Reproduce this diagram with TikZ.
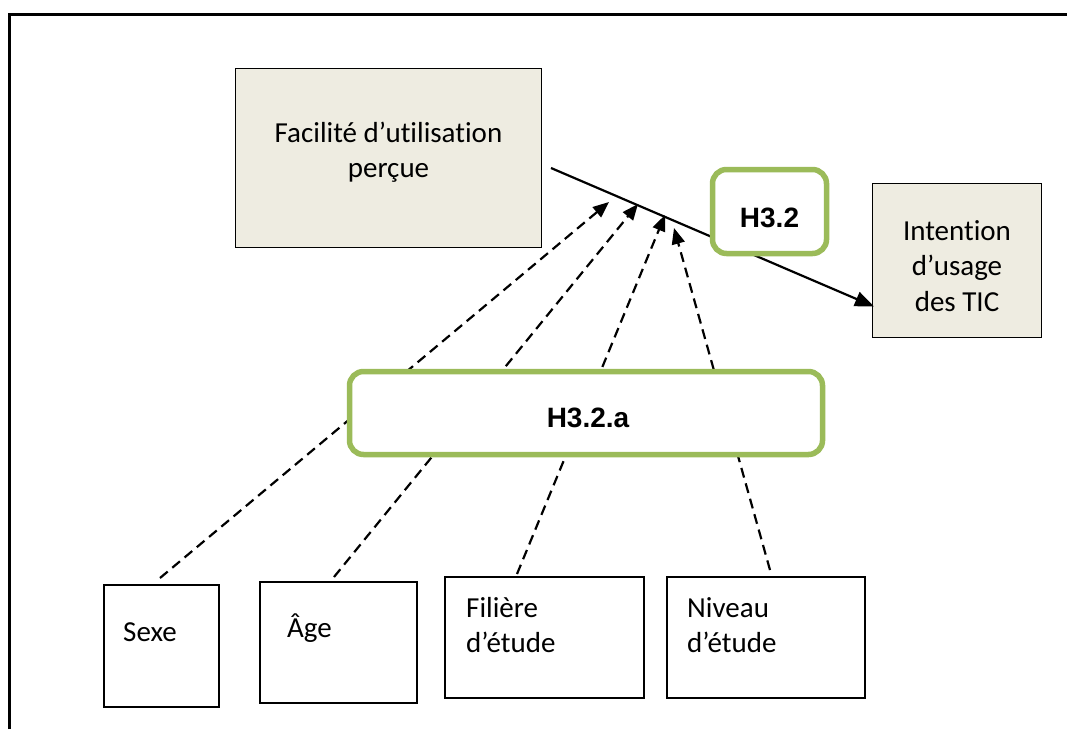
\documentclass[tikz,border=0pt]{standalone}
\usepackage{fontspec}
\setmainfont{Carlito}[Ligatures={NoCommon}]
\newfontfamily\arialf{Liberation Sans}
\usetikzlibrary{arrows.meta,calc}
\definecolor{hgreen}{HTML}{9BBB59}
\definecolor{tanfill}{HTML}{EEECE1}
\begin{document}
\begin{tikzpicture}[x=1pt,y=-1pt,
  tanbox/.style={draw=black,line width=1.8pt,fill=tanfill,inner sep=0pt},
  wbox/.style={draw=black,line width=2pt,fill=white,inner sep=0pt},
  hbox/.style={draw=hgreen,line width=5.5pt,fill=white,rounded corners=14pt,inner sep=0pt},
  txt/.style={font=\fontsize{29}{35.5}\selectfont,inner sep=0pt,align=center},
  ltxt/.style={font=\fontsize{29}{35.5}\selectfont,inner sep=0pt,anchor=base west},
  htxt/.style={font=\arialf\bfseries\fontsize{28}{34}\selectfont,inner sep=0pt},
  darrow/.style={line width=2.2pt,dash pattern=on 10pt off 6pt,-{Triangle[length=16pt,width=13pt]}},
  marrow/.style={line width=2.2pt,-{Triangle[length=19pt,width=15pt]}}
]
\useasboundingbox (0,0) rectangle (1067,729);
% frame
\draw[line width=3pt] (9,729) -- (9,14.5) -- (1067,14.5);

% boxes
\node[tanbox,minimum width=306pt,minimum height=179pt] (fac) at (388.5,158) {};
\node[txt] (factxt) at (388.5,152) {Facilité d’utilisation\\perçue};
\node[tanbox,minimum width=169pt,minimum height=154pt] (int) at (957,260.5) {};
\node[txt] (inttxt) at (957,266) {Intention\\d’usage\\des TIC};

\node[wbox,minimum width=115pt,minimum height=122pt] (sexe) at (161,645.5) {};
\node[wbox,minimum width=157pt,minimum height=121pt] (age) at (338,642) {};
\node[wbox,minimum width=199pt,minimum height=121pt] (fil) at (544,637) {};
\node[wbox,minimum width=198pt,minimum height=121pt] (niv) at (765.5,637) {};
\node[ltxt] (sexetxt) at (123,641) {Sexe};
\node[ltxt] (agetxt) at (287,637) {Âge};
\node[ltxt] (filtxt1) at (466,617) {Filière};
\node[ltxt] (filtxt2) at (466,652) {d’étude};
\node[ltxt] (nivtxt1) at (687,617) {Niveau};
\node[ltxt] (nivtxt2) at (687,652) {d’étude};

% connector coordinates
\coordinate (mstart) at (551,168);
\coordinate (mend) at (874,306.5);
\coordinate (t1) at (609,202);
\coordinate (t2) at (638,204);
\coordinate (t3) at (665,215);
\coordinate (t4) at (674,228);
\coordinate (s1) at (160,578);
\coordinate (s2) at (334,577);
\coordinate (s3) at (517,574);
\coordinate (s4) at (770,570);

% main arrow
\draw[marrow] (mstart) -- (mend);
% dashed arrows
\draw[darrow] (s1) -- (t1);
\draw[darrow] (s2) -- (t2);
\draw[darrow] (s3) -- (t3);
\draw[darrow] (s4) -- (t4);

% hypothesis boxes
\node[hbox,minimum width=114pt,minimum height=84pt] (h32) at (769.5,211.5) {};
\node[htxt] (h32txt) at (769.5,218) {H3.2};
\node[hbox,minimum width=473pt,minimum height=83pt] (h32a) at (586,413) {};
\node[htxt] (h32atxt) at (588,418) {H3.2.a};
\end{tikzpicture}
\end{document}
